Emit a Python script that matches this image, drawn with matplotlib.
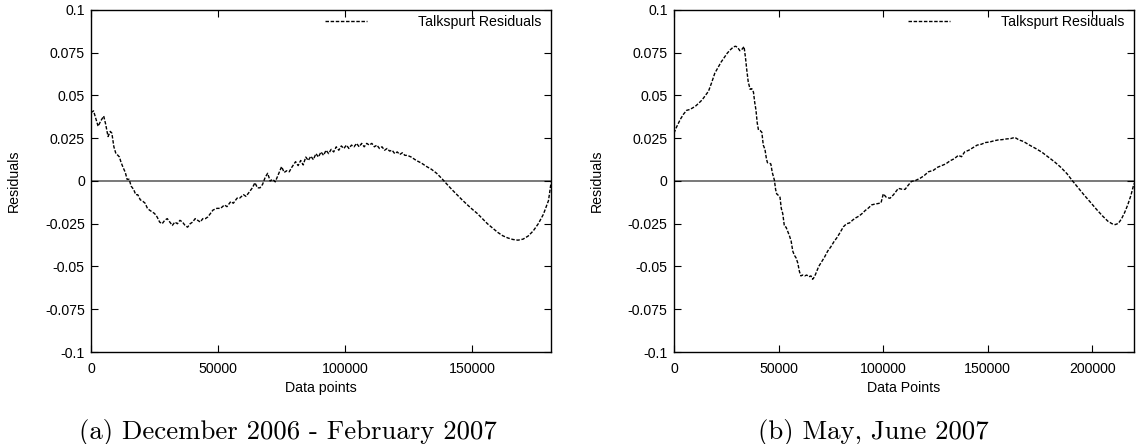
import matplotlib
matplotlib.use("Agg")
import matplotlib.pyplot as plt

# ---- data: (a) December 2006 - February 2007 ----
x_a = [0, 1000, 1800, 2800, 3800, 5000, 5800, 6700, 7600, 8200, 9000, 9800, 10600, 11200,
       11800, 12600, 13500, 14200, 15000, 15800, 16800, 17600, 18400, 19400, 20500, 21300,
       22200, 23000, 24000, 25000, 26000, 27000, 28000, 29000, 30000, 31000, 32000, 33000,
       34000, 35000, 36000, 37000, 38000, 39000, 40000, 41000, 42000, 43000, 44000, 45000,
       46000, 47000, 48000, 49500, 51000, 52500, 53500, 55000, 56000, 57500, 58500, 60000,
       61000, 62500, 63500, 64500, 65500, 66500, 67500, 68500, 69500, 70500, 71500, 72500,
       73500, 75000, 76000, 77000, 78000, 79000, 80500, 81500, 82500, 83500, 84500, 85500,
       86500, 87500, 88500, 89500, 90500, 91500, 92500, 93500, 94500, 95500, 96500, 97500,
       98500, 99500, 100500, 101500, 102500, 103500, 104500, 105500, 106500, 107500, 108500,
       109500, 110500, 111500, 112500, 113500, 114500, 115500, 116500, 117500, 118500,
       119500, 120500, 121500, 122500, 123500, 124500, 126000, 128000, 130000, 132000,
       134000, 136000, 138000, 140000, 142000, 144000, 146000, 148000, 150000, 152000,
       154000, 156000, 158000, 160000, 162000, 164000, 166000, 168000, 170000, 172000,
       174000, 176000, 178000, 180000, 180500, 181000]
y_a = [0.040, 0.041, 0.037, 0.032, 0.035, 0.038, 0.033, 0.026, 0.029, 0.028, 0.020, 0.016,
       0.015, 0.014, 0.011, 0.008, 0.005, 0.001, 0.001, -0.003, -0.005, -0.008, -0.008,
       -0.011, -0.012, -0.013, -0.016, -0.017, -0.018, -0.019, -0.021, -0.024, -0.025,
       -0.023, -0.022, -0.024, -0.026, -0.024, -0.025, -0.023, -0.024, -0.026, -0.027,
       -0.025, -0.024, -0.022, -0.023, -0.024, -0.022, -0.022, -0.021, -0.019, -0.017,
       -0.016, -0.016, -0.014, -0.015, -0.012, -0.013, -0.010, -0.010, -0.008, -0.009,
       -0.006, -0.004, -0.001, -0.004, -0.004, -0.002, 0.002, 0.0045, 0.000, 0.001,
       -0.0005, 0.003, 0.0084, 0.005, 0.006, 0.0054, 0.008, 0.0113, 0.009, 0.012, 0.0094,
       0.014, 0.012, 0.0145, 0.0125, 0.016, 0.014, 0.017, 0.015, 0.018, 0.016, 0.0185,
       0.017, 0.020, 0.018, 0.0205, 0.019, 0.021, 0.019, 0.021, 0.020, 0.022, 0.020, 0.022,
       0.020, 0.022, 0.021, 0.022, 0.020, 0.021, 0.019, 0.020, 0.018, 0.019, 0.0175, 0.018,
       0.016, 0.017, 0.0155, 0.0165, 0.015, 0.015, 0.014, 0.012, 0.0105, 0.0085, 0.0068,
       0.0045, 0.0015, -0.0018, -0.0050, -0.0080, -0.0110, -0.0138, -0.0165, -0.0190,
       -0.0220, -0.0250, -0.0275, -0.0300, -0.0320, -0.0333, -0.0342, -0.0346, -0.0340,
       -0.0322, -0.0292, -0.0250, -0.0195, -0.0115, -0.0065, -0.0010]

# ---- data: (b) May, June 2007 ----
x_b = [0, 1000, 2000, 3000, 4500, 6000, 7500, 9000, 10500, 12000, 13500, 15000, 16500,
       18000, 19500, 21000, 22500, 24000, 25500, 27000, 28500, 29500, 30500, 31500, 32500,
       33500, 34200, 34800, 35500, 36400, 37200, 38000, 38600, 39200, 39800, 40400, 41200,
       42000, 42700, 43500, 44200, 44700, 45500, 46300, 47000, 48000, 48600, 49100, 50000,
       50700, 51300, 52000, 52800, 53600, 54400, 55200, 56000, 56800, 57600, 58400, 59200,
       60000, 60700, 61500, 62500, 63500, 64500, 65500, 66300, 67200, 68200, 69200, 70500,
       72000, 73500, 75000, 76500, 78000, 79500, 81000, 82500, 84000, 85500, 87000, 88500,
       90000, 91500, 93000, 94500, 96000, 97500, 99000, 100100, 101500, 103300, 105000,
       107300, 109000, 110500, 112000, 113500, 115500, 117700, 119500, 121700, 124000,
       126000, 128000, 130000, 132000, 134000, 136000, 137500, 139000, 141000, 143000,
       145000, 147000, 149000, 151000, 153000, 155000, 157000, 159000, 161000, 163000,
       165000, 167000, 170000, 173000, 176000, 179000, 182000, 185000, 188000, 190500,
       193000, 196000, 199000, 202000, 205000, 207500, 209500, 211000, 212500, 214000,
       215500, 217000, 218500, 220000]
y_b = [0.028, 0.031, 0.0335, 0.036, 0.039, 0.0413, 0.0418, 0.0428, 0.044, 0.0457, 0.0475,
       0.050, 0.0525, 0.0575, 0.063, 0.0662, 0.0695, 0.0722, 0.0748, 0.0768, 0.0785,
       0.0788, 0.078, 0.0762, 0.0770, 0.0786, 0.072, 0.065, 0.058, 0.0536, 0.054, 0.052,
       0.046, 0.0415, 0.034, 0.0298, 0.0295, 0.0285, 0.021, 0.0185, 0.013, 0.0107, 0.0105,
       0.0100, 0.005, 0.0006, -0.005, -0.0075, -0.0085, -0.0095, -0.016, -0.019, -0.0265,
       -0.027, -0.0295, -0.032, -0.035, -0.041, -0.0435, -0.045, -0.048, -0.053, -0.0555,
       -0.055, -0.0555, -0.055, -0.0560, -0.0555, -0.0575, -0.056, -0.053, -0.050, -0.0475,
       -0.0445, -0.041, -0.0385, -0.0355, -0.0330, -0.0300, -0.0268, -0.0250, -0.0245,
       -0.0228, -0.0215, -0.0205, -0.0190, -0.0172, -0.0158, -0.0140, -0.0135, -0.0132,
       -0.0128, -0.0075, -0.0095, -0.0101, -0.0080, -0.0043, -0.0048, -0.0049, -0.0025,
       -0.0003, 0.0003, 0.0016, 0.0030, 0.0054, 0.0062, 0.0080, 0.0090, 0.0100, 0.0118,
       0.0130, 0.0150, 0.0142, 0.0170, 0.0180, 0.0195, 0.0210, 0.0215, 0.0225, 0.0228,
       0.0235, 0.0240, 0.0242, 0.0246, 0.0248, 0.0255, 0.0240, 0.0232, 0.0210, 0.0190,
       0.0168, 0.0140, 0.0112, 0.0080, 0.0042, 0.0002, -0.0035, -0.0080, -0.0122, -0.0165,
       -0.0205, -0.0235, -0.0250, -0.0255, -0.0248, -0.0222, -0.0185, -0.0140, -0.0085,
       -0.0015]

y_ticks = [0.1, 0.075, 0.05, 0.025, 0, -0.025, -0.05, -0.075, -0.1]
y_tick_labels = ["0.1", "0.075", "0.05", "0.025", "0", "-0.025", "-0.05", "-0.075", "-0.1"]
x_ticks_a = [0, 50000, 100000, 150000]
x_ticks_b = [0, 50000, 100000, 150000, 200000]
xmax_a = 181000
xmax_b = 220000
legend_label = "Talkspurt Residuals"
xlabel_a = "Data points"
xlabel_b = "Data Points"
ylabel = "Residuals"
caption_a = "(a) December 2006 - February 2007"
caption_b = "(b) May, June 2007"

W, H = 1141, 444
fig = plt.figure(figsize=(W / 100, H / 100), dpi=100)
sans = "Liberation Sans"
fs = 10.2

def make_axes(left_px, xs, ys, xmax, xticks, xlabel):
    ax = fig.add_axes([left_px / W, 1 - 352 / H, 460 / W, 342 / H])
    ax.axhline(0, color="#6e6e6e", lw=1.3, zorder=1)
    ax.plot(xs, ys, color="black", lw=1.0, linestyle=(0, (2.5, 1.2)),
            label=legend_label, zorder=2)
    ax.set_xlim(0, xmax)
    ax.set_ylim(-0.1, 0.1)
    ax.set_xticks(xticks)
    ax.set_xticklabels([str(t) for t in xticks], fontfamily=sans, fontsize=fs)
    ax.set_yticks(y_ticks)
    ax.set_yticklabels(y_tick_labels, fontfamily=sans, fontsize=fs)
    ax.tick_params(direction="in", length=5, width=0.8, top=True, right=True)
    ax.tick_params(axis="x", pad=7)
    ax.tick_params(axis="y", pad=4.5)
    for s in ax.spines.values():
        s.set_linewidth(1.0)
    ax.set_xlabel(xlabel, fontfamily=sans, fontsize=fs)
    ax.set_ylabel(ylabel, fontfamily=sans, fontsize=fs)
    ax.xaxis.set_label_coords(0.5, -0.105)
    ax.xaxis.label.set_va("center")
    ax.yaxis.set_label_coords(-0.168, 0.5)
    ax.yaxis.label.set_va("center")
    ax.legend(loc="upper right", bbox_to_anchor=(0.978, 0.986), frameon=False,
              borderpad=0, borderaxespad=0, handlelength=2.9, handletextpad=3.6,
              prop={"family": sans, "size": fs})
    return ax

ax1 = make_axes(91, x_a, y_a, xmax_a, x_ticks_a, xlabel_a)
ax2 = make_axes(674, x_b, y_b, xmax_b, x_ticks_b, xlabel_b)

fig.text(288 / W, 1 - 432 / H, caption_a, family="cmr10", fontsize=19.3,
         ha="center", va="center")
fig.text(873 / W, 1 - 432 / H, caption_b, family="cmr10", fontsize=19.3,
         ha="center", va="center")

fig.savefig("out.png", dpi=100)
